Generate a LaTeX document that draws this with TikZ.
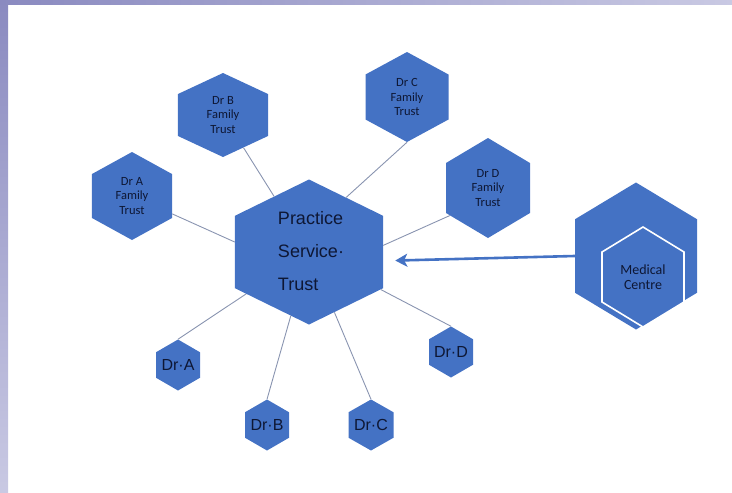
\documentclass[tikz,border=0pt]{standalone}
\usepackage{fontspec}
\setmainfont{Liberation Sans}
\newfontfamily\calfont{Carlito}
\usetikzlibrary{shapes.geometric,arrows.meta}
\definecolor{hexblue}{HTML}{4472C4}
\definecolor{ink}{HTML}{0E1734}
\definecolor{wiregray}{HTML}{8994B0}
\definecolor{lavdark}{HTML}{8A8AC0}
\definecolor{lavlight}{HTML}{C9C9E3}

\begin{document}
\begin{tikzpicture}[x=1pt,y=1pt,
    hexa/.style 2 args={regular polygon,regular polygon sides=6,shape border rotate=30,
      minimum size=#2pt,inner sep=0pt,fill=hexblue,transform shape,xscale={#1/(0.866*#2)}},
    ft/.style={font=\calfont\fontsize{12.5}{14.5}\selectfont,text=ink,align=center,inner sep=0pt},
    dr/.style={font=\fontsize{16}{18}\selectfont,text=ink,inner sep=0pt},
    wire/.style={draw=wiregray,line width=0.9pt},
    arr/.style={draw=hexblue,line width=2.6pt,-{Stealth[length=12pt,width=13pt,inset=3pt]}}]
  \useasboundingbox (0,0) rectangle (732,-493);
  \shade[top color=lavdark,bottom color=lavlight] (0,0) rectangle (8,-493);
  \shade[left color=lavdark,right color=lavlight] (0,0) rectangle (732,-4);
  \node[hexa={148}{145}] (pst) at (309,-252) {};
  \node[hexa={80}{88}] (fa) at (132,-196) {};
  \node[hexa={90}{84}] (fb) at (223,-115) {};
  \node[hexa={83}{90}] (fc) at (407,-97) {};
  \node[hexa={84}{100}] (fd) at (488,-188) {};
  \node[hexa={44}{51}] (a) at (178,-365) {};
  \node[hexa={44}{51}] (b) at (267,-425) {};
  \node[hexa={45}{51}] (c) at (371,-425) {};
  \node[hexa={44}{51}] (d) at (451,-352) {};
  \node[hexa={122}{147}] (mc) at (636,-256) {};
  \node[hexa={82}{100},draw=white,line width=1.6pt] (mci) at (643,-277) {};
  \node[font=\fontsize{18}{33}\selectfont,text=ink,align=left,inner sep=0pt] (pst-t) at (311,-251)
    {Practice\\Service·\\Trust};
  \foreach \n/\t in {fa/A,fb/B,fc/C,fd/D}{\node[ft] (\n-t) at (\n) {Dr \t\\Family\\Trust};}
  \foreach \n/\t in {a/A,b/B,c/C,d/D}{\node[dr] (\n-t) at (\n) {Dr·\t};}
  \node[ft,font=\calfont\fontsize{14}{15.5}\selectfont] (mci-t) at (mci) {Medical\\Centre};
  \draw[wire] (fa.-25) -- (pst.171);
  \draw[wire] (fb) -- (pst);
  \draw[wire] (fc.270) -- (pst.60);
  \draw[wire] (fd.215) -- (pst.6);
  \foreach \n in {a,b,c,d}{\draw[wire] (pst) -- (\n.90);}
  \draw[arr,shorten >=12pt] (mc.180) -- (pst.-8);
\end{tikzpicture}
\end{document}
